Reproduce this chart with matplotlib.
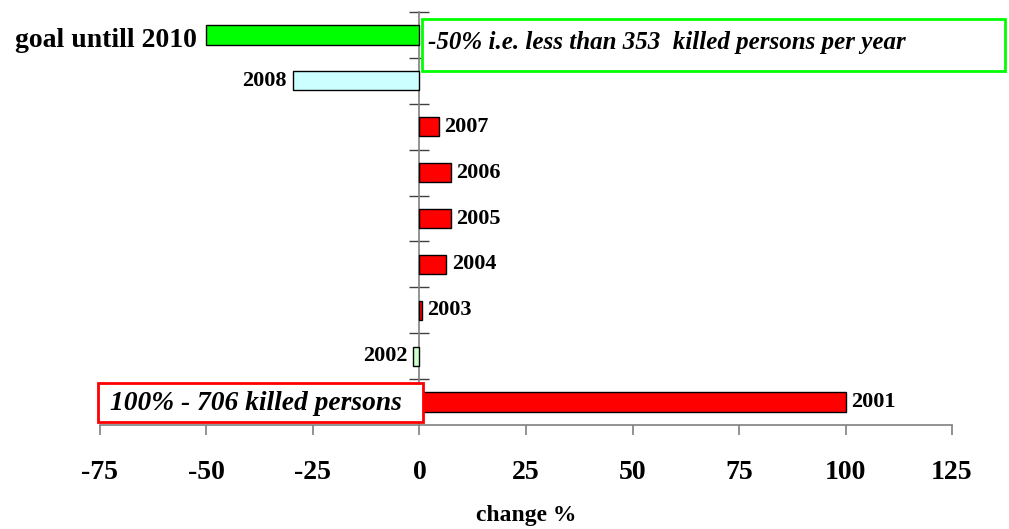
import matplotlib
matplotlib.use("Agg")
import matplotlib.pyplot as plt
from matplotlib.patches import Rectangle
from matplotlib.ticker import FixedLocator

# data, bottom to top
labels = ['2001', '2002', '2003', '2004', '2005', '2006', '2007', '2008',
          'goal untill 2010']
change = [100, -1.6, 0.5, 6.3, 7.4, 7.4, 4.5, -29.8, -50]
colors = ['#FF0000', '#CCFFCC', '#FF0000', '#FF0000', '#FF0000', '#FF0000',
          '#FF0000', '#CCFFFF', '#00FF00']
xticks = [-75, -50, -25, 0, 25, 50, 75, 100, 125]

note_top = '-50% i.e. less than 353  killed persons per year'
note_bottom = '100% - 706 killed persons'

plt.rcParams['font.family'] = ['Liberation Serif', 'DejaVu Serif']

fig = plt.figure(figsize=(10.09, 5.29), dpi=100)
ax = fig.add_axes([100 / 1009, 1 - 425 / 529, 852 / 1009, 413 / 529])

pos = list(range(len(labels)))
ax.barh(pos, change, height=0.42, color=colors, edgecolor='black',
        linewidth=1.0, zorder=3)

ax.set_xlim(-75, 125)
ax.set_ylim(-0.5, len(labels) - 0.5)

# spines
for s in ['top', 'right']:
    ax.spines[s].set_visible(False)
ax.spines['left'].set_position(('data', 0))
ax.spines['left'].set_color('#808080')
ax.spines['bottom'].set_color('#808080')
ax.spines['left'].set_linewidth(1.2)
ax.spines['bottom'].set_linewidth(1.2)

ax.set_xticks(xticks)
ax.set_xticklabels([str(v) for v in xticks], fontsize=20, fontweight='bold')
ax.tick_params(axis='x', direction='out', length=7.5, width=1.2,
               color='#808080', pad=18)

ax.set_yticks([])
ax.yaxis.set_minor_locator(FixedLocator([p + 0.5 for p in pos]))
ax.tick_params(axis='y', which='minor', direction='inout', length=14,
               width=1.0, color='#404040')

ax.set_xlabel('change %', fontsize=17, fontweight='bold', labelpad=14)

# bar labels
for p, v, lab in zip(pos, change, labels):
    big = lab.startswith('goal')
    fs = 20 if big else 16
    if v >= 0:
        ax.annotate(lab, (v, p), xytext=(4, 0), textcoords='offset points',
                    ha='left', va='center', fontsize=fs, fontweight='bold')
    else:
        ax.annotate(lab, (v, p), xytext=(-7 if big else -4, -4 if big else 0),
                    textcoords='offset points', ha='right', va='center',
                    fontsize=fs, fontweight='bold')

# annotation boxes
fig.patches.append(Rectangle((422 / 1009, 1 - 71 / 529), 583 / 1009,
                             52 / 529, transform=fig.transFigure,
                             facecolor='white', edgecolor='#00FF00',
                             linewidth=2, zorder=5))
fig.text(428 / 1009, 1 - 43 / 529, note_top, fontsize=18, fontweight='bold',
         style='italic', ha='left', va='center', zorder=6)

fig.patches.append(Rectangle((98 / 1009, 1 - 422 / 529), 325 / 1009,
                             39 / 529, transform=fig.transFigure,
                             facecolor='white', edgecolor='#FF0000',
                             linewidth=2, zorder=5))
fig.text(110 / 1009, 1 - 404 / 529, note_bottom, fontsize=19.8,
         fontweight='bold', style='italic', ha='left', va='center', zorder=6)

fig.savefig('out.png', dpi=100)
